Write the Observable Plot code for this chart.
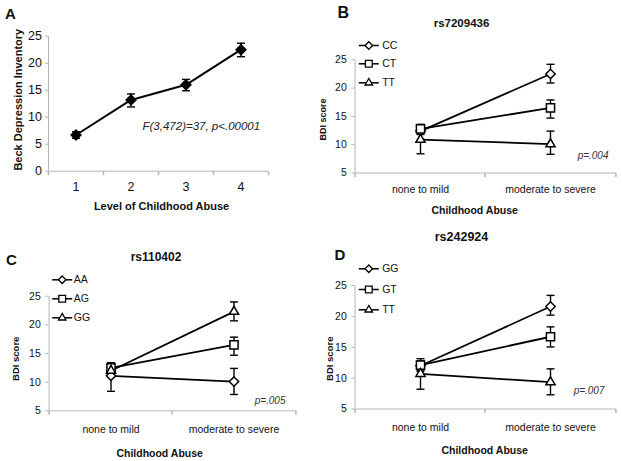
<!DOCTYPE html>
<html><head><meta charset="utf-8">
<script src="https://cdn.jsdelivr.net/npm/d3@7"></script>
<script src="https://cdn.jsdelivr.net/npm/@observablehq/plot@0.6"></script>
<style>
body{margin:0;background:#fff;}
#wrap{position:relative;width:622px;height:461px;background:#fff;}
#wrap svg{position:absolute;}
</style></head><body><div id="wrap"></div>
<script>
// ---------- data ----------
// Panel A
const levelsA = ["1", "2", "3", "4"];
const meanA = [6.7, 13.2, 16.0, 22.5];
const loA = [6.1, 11.9, 14.9, 21.2];
const hiA = [7.3, 14.3, 17.0, 23.7];

const abuseCats = ["none to mild", "moderate to severe"];

// Panel B (rs7209436)
const genoB = ["CC", "CT", "TT"];
const meanB = [[12.4, 22.5], [12.8, 16.5], [10.9, 10.1]];
const loB = [[11.8, 20.9], [12.2, 14.7], [8.4, 8.3]];
const hiB = [[13.1, 24.2], [13.6, 17.9], [12.4, 12.4]];

// Panel C (rs110402)
const genoC = ["AA", "AG", "GG"];
const meanC = [[11.1, 10.1], [12.5, 16.5], [12.0, 22.3]];
const loC = [[8.4, 7.85], [11.6, 14.7], [11.3, 20.7]];
const hiC = [[13.2, 12.4], [13.4, 17.85], [12.8, 24.0]];

// Panel D (rs242924)
const genoD = ["GG", "GT", "TT"];
const meanD = [[12.0, 21.6], [12.1, 16.7], [10.7, 9.35]];
const loD = [[11.3, 20.2], [11.1, 15.05], [8.2, 7.3]];
const hiD = [[12.8, 23.4], [13.15, 18.3], [12.5, 11.5]];

const yTicksA = [0, 5, 10, 15, 20, 25];
const yTicksBDI = [5, 10, 15, 20, 25];

// ---------- helpers ----------
const FONT = 'Arial, "Liberation Sans", sans-serif';
const AXIS = "#b5b5b5";
const capSym = {draw(c) { c.moveTo(-4, 0); c.lineTo(4, 0); }};
const tickDown = {draw(c) { c.moveTo(0, 0); c.lineTo(0, 4); }};
const legendSeg = {draw(c) { c.moveTo(-10, 0); c.lineTo(10, 0); }};
const openSymbols = ["diamond2", "square2", "triangle2"];
const openR = [4.2, 5.2, 4.4];
const legendR = [3.4, 4.3, 3.6];

function rowsFor(genos, means, los, his) {
  const rows = [];
  genos.forEach((g, i) => abuseCats.forEach((c, j) =>
    rows.push({geno: g, cat: c, mean: means[i][j], lo: los[i][j], hi: his[i][j]})));
  return rows;
}

function errorMarks(rows) {
  return [
    Plot.ruleX(rows, {x: "cat", y1: "lo", y2: "hi", stroke: "black", strokeWidth: 1.4}),
    Plot.dot(rows, {x: "cat", y: "lo", symbol: capSym, stroke: "black", strokeWidth: 1.4}),
    Plot.dot(rows, {x: "cat", y: "hi", symbol: capSym, stroke: "black", strokeWidth: 1.4})
  ];
}

function seriesMarks(rows, genos) {
  return [
    ...errorMarks(rows),
    Plot.line(rows, {x: "cat", y: "mean", z: "geno", stroke: "black", strokeWidth: 1.8}),
    ...genos.map((g, i) => Plot.dot(rows.filter(d => d.geno === g), {
      x: "cat", y: "mean", symbol: openSymbols[i], r: openR[i],
      fill: "white", stroke: "black", strokeWidth: 1.5
    }))
  ];
}

function txt(s, o) {
  return Plot.text([s], {text: d => d, fill: "#111", textAnchor: "middle", lineAnchor: "middle", ...o});
}

function legendMarks(genos, mx, dys, tx, fs) {
  const out = [];
  genos.forEach((g, i) => {
    out.push(Plot.dot([g], {frameAnchor: "top-left", dx: mx, dy: dys[i], symbol: legendSeg, stroke: "black", strokeWidth: 1.5}));
    out.push(Plot.dot([g], {frameAnchor: "top-left", dx: mx, dy: dys[i], symbol: openSymbols[i], r: legendR[i], fill: "white", stroke: "black", strokeWidth: 1.3}));
    out.push(txt(g, {frameAnchor: "top-left", dx: tx, dy: dys[i], textAnchor: "start", fontSize: fs}));
  });
  return out;
}

function panel(cfg) {
  const {left, top, width, height, ml, mr, mt, mb, cats, yDomain, yTicks,
         tickFs, tickSize, tickPad, xPad, catFs, marks} = cfg;
  const bw = (width - ml - mr) / cats.length;
  const svg = Plot.plot({
    width, height,
    marginLeft: ml, marginRight: mr, marginTop: mt, marginBottom: mb,
    x: {domain: cats, type: "band", padding: 0, axis: null},
    y: {domain: yDomain, axis: null},
    style: {fontFamily: FONT, background: "transparent", overflow: "visible", color: "#111"},
    marks: [
      Plot.ruleY([yDomain[0]], {stroke: AXIS}),
      Plot.ruleX([cats[0]], {dx: -bw / 2, stroke: AXIS}),
      Plot.dot(cats, {x: d => d, y: () => yDomain[0], dx: -bw / 2, symbol: tickDown, stroke: AXIS}),
      Plot.dot(cats.slice(-1), {x: d => d, y: () => yDomain[0], dx: bw / 2, symbol: tickDown, stroke: AXIS}),
      Plot.axisY({ticks: yTicks, tickSize, tickPadding: tickPad, fontSize: tickFs, stroke: AXIS, color: "#111", label: null}),
      Plot.axisX({tickSize: 0, tickPadding: xPad, fontSize: catFs, color: "#111", label: null}),
      ...marks
    ]
  });
  svg.style.left = left + "px";
  svg.style.top = top + "px";
  document.getElementById("wrap").appendChild(svg);
}

// ---------- Panel A ----------
const rowsA = levelsA.map((l, i) => ({cat: l, mean: meanA[i], lo: loA[i], hi: hiA[i]}));
panel({
  left: 0, top: 0, width: 311, height: 230, ml: 48, mr: 43, mt: 35.7, mb: 59.3,
  cats: levelsA, yDomain: [0, 25], yTicks: yTicksA,
  tickFs: 12.5, tickSize: 3, tickPad: 3.5, xPad: 10.5, catFs: 12.5,
  marks: [
    ...errorMarks(rowsA),
    Plot.line(rowsA, {x: "cat", y: "mean", stroke: "black", strokeWidth: 2}),
    Plot.dot(rowsA, {x: "cat", y: "mean", symbol: "diamond2", r: 4.4, fill: "black", stroke: "black"}),
    txt("A", {frameAnchor: "top-left", dx: -38, dy: -22.4, fontSize: 15, fontWeight: "bold"}),
    txt("Beck Depression Inventory", {frameAnchor: "left", rotate: -90, dx: -29.7, dy: -4, fontSize: 11, fontWeight: "bold"}),
    txt("Level of Childhood Abuse", {frameAnchor: "bottom", dx: 3, dy: 35.3, fontSize: 11, fontWeight: "bold"}),
    txt("F(3,472)=37, p<.00001", {frameAnchor: "top-left", textAnchor: "start", dx: 94, dy: 90.3, fontSize: 11.5, fontStyle: "italic", fill: "#222"})
  ]
});

// ---------- Panel B ----------
const rowsB = rowsFor(genoB, meanB, loB, hiB);
panel({
  left: 311, top: 0, width: 311, height: 230, ml: 43.3, mr: 6, mt: 59.3, mb: 57.5,
  cats: abuseCats, yDomain: [5, 25], yTicks: yTicksBDI,
  tickFs: 10.5, tickSize: 3, tickPad: 5, xPad: 12.8, catFs: 10.5,
  marks: [
    ...seriesMarks(rowsB, genoB),
    ...legendMarks(genoB, 14, [-14.3, 4, 23], 27.4, 10.5),
    txt("B", {frameAnchor: "top-left", dx: -11.6, dy: -46.8, fontSize: 16, fontWeight: "bold"}),
    txt("rs7209436", {frameAnchor: "top-left", dx: 106.7, dy: -36.6, fontSize: 11.5, fontWeight: "bold"}),
    txt("BDI score", {frameAnchor: "left", rotate: -90, dx: -31.3, dy: 3, fontSize: 9, fontWeight: "bold"}),
    txt("Childhood Abuse", {frameAnchor: "bottom", dx: -11, dy: 38, fontSize: 10.5, fontWeight: "bold"}),
    txt("p=.004", {frameAnchor: "bottom-right", textAnchor: "end", dx: -8, dy: -17.7, fontSize: 10, fontStyle: "italic", fill: "#333"})
  ]
});

// ---------- Panel C ----------
const rowsC = rowsFor(genoC, meanC, loC, hiC);
panel({
  left: 0, top: 230, width: 311, height: 231, ml: 48.3, mr: 15, mt: 65.7, mb: 50.7,
  cats: abuseCats, yDomain: [5, 25], yTicks: yTicksBDI,
  tickFs: 10.5, tickSize: 3, tickPad: 5, xPad: 15, catFs: 10.5,
  marks: [
    ...seriesMarks(rowsC, genoC),
    ...legendMarks(genoC, 13.4, [-16.4, 2.6, 21.6], 25, 10.5),
    txt("C", {frameAnchor: "top-left", dx: -37.3, dy: -35.7, fontSize: 15, fontWeight: "bold"}),
    txt("rs110402", {frameAnchor: "top-left", dx: 107.2, dy: -39, fontSize: 12, fontWeight: "bold"}),
    txt("BDI score", {frameAnchor: "left", rotate: -90, dx: -33.3, dy: 5.3, fontSize: 9.5, fontWeight: "bold"}),
    txt("Childhood Abuse", {frameAnchor: "bottom", dx: -13, dy: 42.4, fontSize: 10.5, fontWeight: "bold"}),
    txt("p=.005", {frameAnchor: "bottom-right", textAnchor: "end", dx: -11, dy: -9.6, fontSize: 10, fontStyle: "italic", fill: "#333"})
  ]
});

// ---------- Panel D ----------
const rowsD = rowsFor(genoD, meanD, loD, hiD);
panel({
  left: 311, top: 230, width: 311, height: 231, ml: 43.3, mr: 6, mt: 55, mb: 52.5,
  cats: abuseCats, yDomain: [5, 25], yTicks: yTicksBDI,
  tickFs: 10.5, tickSize: 3, tickPad: 5, xPad: 14.6, catFs: 10.5,
  marks: [
    ...seriesMarks(rowsD, genoD),
    ...legendMarks(genoD, 14, [-16.7, 4, 24.3], 27.4, 10.5),
    txt("D", {frameAnchor: "top-left", dx: -15, dy: -30, fontSize: 15, fontWeight: "bold"}),
    txt("rs242924", {frameAnchor: "top-left", dx: 106.7, dy: -49, fontSize: 12.5, fontWeight: "bold"}),
    txt("BDI score", {frameAnchor: "left", rotate: -90, dx: -25, dy: 11.5, fontSize: 9.5, fontWeight: "bold"}),
    txt("Childhood Abuse", {frameAnchor: "bottom", dx: -1, dy: 41.5, fontSize: 10.5, fontWeight: "bold"}),
    txt("p=.007", {frameAnchor: "bottom-right", textAnchor: "end", dx: -12, dy: -17.8, fontSize: 10, fontStyle: "italic", fill: "#333"})
  ]
});
</script>
</body></html>
